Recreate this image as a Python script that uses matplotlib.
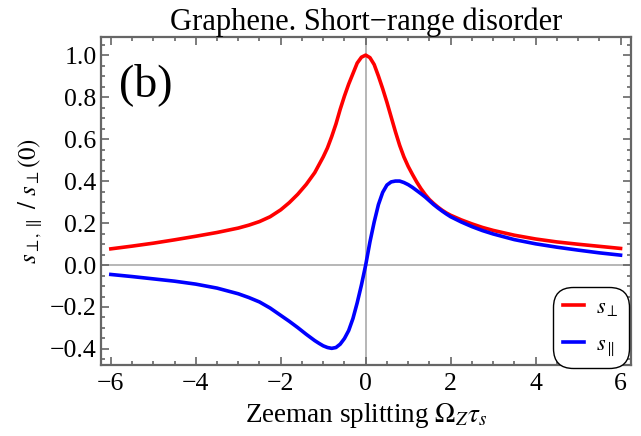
import numpy as np
import matplotlib
matplotlib.use("Agg")
import matplotlib.pyplot as plt
from matplotlib.ticker import MultipleLocator, FuncFormatter

plt.rcParams['font.family'] = ['Liberation Serif', 'DejaVu Serif']
plt.rcParams['mathtext.fontset'] = 'stix'

nicered = "#FF0000"
niceblu = "#0000FF"
framecol = "#666666"

# s_perp (red); the right flank is a bit narrower than the left
x_perp = [-6, -5.5, -5, -4.5, -4, -3.5, -3, -2.75, -2.5, -2.25, -2.0, -1.8, -1.6,
          -1.4, -1.2, -1.0, -0.9, -0.8, -0.7, -0.6, -0.5, -0.4, -0.3, -0.2, -0.1, 0,
          0.1, 0.2, 0.3, 0.4, 0.5, 0.6, 0.7, 0.8, 0.9, 1.0, 1.1, 1.2, 1.3, 1.4, 1.5,
          1.6, 1.7, 1.8, 1.9, 2.0, 2.25, 2.5, 2.75, 3.0, 3.5, 4.0, 4.5, 5.0, 5.5, 6.0]
s_perp = [0.077, 0.090, 0.104, 0.120, 0.137, 0.155, 0.176, 0.190, 0.207, 0.230,
          0.263, 0.297, 0.337, 0.384, 0.440, 0.515, 0.558, 0.612, 0.672, 0.742,
          0.805, 0.862, 0.912, 0.962, 0.990, 1.000,
          0.988, 0.955, 0.900, 0.840, 0.775, 0.705, 0.635, 0.570, 0.515, 0.470,
          0.432, 0.396, 0.364, 0.336, 0.312, 0.293, 0.276, 0.261, 0.248, 0.237,
          0.215, 0.196, 0.179, 0.165, 0.142, 0.124, 0.110, 0.099, 0.089, 0.079]

# s_par (blue)
x_par = [-6, -5.5, -5, -4.5, -4, -3.5, -3, -2.75, -2.5, -2.25, -2.0, -1.8, -1.6,
         -1.4, -1.2, -1.1, -1.0, -0.9, -0.8, -0.7, -0.6, -0.5, -0.4, -0.3, -0.2,
         -0.1, 0,
         0.1, 0.2, 0.3, 0.4, 0.5, 0.6, 0.7, 0.8, 0.9, 1.0, 1.1, 1.2, 1.3, 1.4, 1.5,
         1.6, 1.7, 1.8, 1.9, 2.0, 2.25, 2.5, 2.75, 3.0, 3.5, 4.0, 4.5, 5.0, 5.5, 6.0]
s_par = [-0.045, -0.055, -0.066, -0.077, -0.091, -0.110, -0.137, -0.155, -0.176,
         -0.205, -0.240, -0.268, -0.298, -0.330, -0.360, -0.373, -0.385, -0.393,
         -0.397, -0.393, -0.377, -0.350, -0.312, -0.255, -0.180, -0.095, 0.000,
         0.110, 0.205, 0.288, 0.346, 0.381, 0.396, 0.400, 0.400, 0.393, 0.383,
         0.370, 0.355, 0.340, 0.324, 0.306, 0.288, 0.272, 0.257, 0.243, 0.230,
         0.205, 0.183, 0.164, 0.148, 0.121, 0.101, 0.085, 0.071, 0.058, 0.047]

fig = plt.figure(figsize=(6.41, 4.36), dpi=100)
ax = fig.add_axes([0.157, 0.163, 0.827, 0.752])

ax.axhline(0, color="#aaaaaa", lw=1.2, zorder=1)
ax.axvline(0, color="#aaaaaa", lw=1.2, zorder=1)

ax.plot(x_perp, s_perp, color=nicered, lw=2.6, label=r"$s_\perp$", zorder=3,
        solid_joinstyle='round')
ax.plot(x_par, s_par, color=niceblu, lw=2.6, label=r"$s_\parallel$", zorder=3,
        solid_joinstyle='round')

ax.set_xlim(-6.24, 6.24)
ax.set_ylim(-0.476, 1.086)

ax.xaxis.set_major_locator(MultipleLocator(2))
ax.xaxis.set_minor_locator(MultipleLocator(0.5))
ax.yaxis.set_major_locator(MultipleLocator(0.2))
ax.yaxis.set_minor_locator(MultipleLocator(0.05))
ax.xaxis.set_major_formatter(FuncFormatter(lambda v, p: ("%d" % round(v)).replace("-", "\u2212")))
ax.yaxis.set_major_formatter(FuncFormatter(lambda v, p: ("%.1f" % v).replace("-", "\u2212")))

for s in ax.spines.values():
    s.set_color(framecol)
    s.set_linewidth(1.6)
ax.tick_params(which='both', direction='in', top=True, right=True, color=framecol,
               labelsize=18.5, width=1.2)
ax.tick_params(which='major', length=6)
ax.tick_params(which='minor', length=3)
ax.tick_params(axis='x', pad=6)
ax.tick_params(axis='y', pad=3)

ax.set_title("Graphene. Short\u2212range disorder", fontsize=22, pad=2)
ax.set_xlabel(r"Zeeman splitting $\Omega_Z\tau_s$", fontsize=19.5, labelpad=4)
ax.set_ylabel(r"$s_{\perp,\parallel}\ /\ s_\perp(0)$", fontsize=18, labelpad=4)

ax.text(0.035, 0.92, "(b)", transform=ax.transAxes, fontsize=33, va='top', ha='left')

leg = ax.legend(loc='lower right', bbox_to_anchor=(629 / 641, (436 - 368) / 436),
                bbox_transform=fig.transFigure, fontsize=16, borderaxespad=0,
                handlelength=0.95, labelspacing=0.75, borderpad=0.45, handletextpad=0.55,
                fancybox=True, framealpha=1, edgecolor='black')
leg.get_frame().set_linewidth(1.0)
leg.get_frame().set_boxstyle('round', pad=0, rounding_size=0.9)
leg.set_zorder(5)

fig.savefig("out.png", dpi=100)
